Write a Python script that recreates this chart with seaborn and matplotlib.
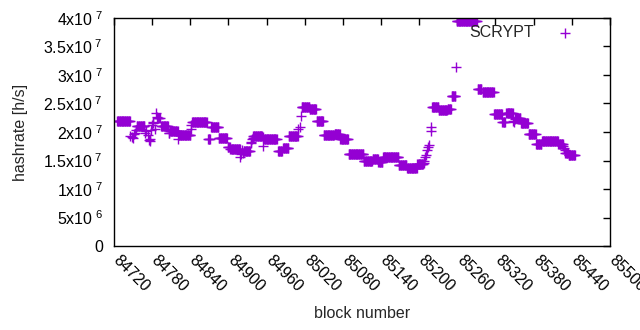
import numpy as np
import pandas as pd
import seaborn as sns
import matplotlib
matplotlib.use("Agg")
import matplotlib.pyplot as plt
import matplotlib.transforms as mtransforms

# plateaus of constant hashrate: first block, last block, hashrate (x1e7)
run_start = [84725, 84756, 84789, 84794, 84808, 84822, 84843, 84868, 84873, 84885,
             84899, 84903, 84924, 84939, 84956, 84978, 84986, 84995, 85016, 85028,
             85039, 85050, 85067, 85076, 85089, 85113, 85127, 85136, 85143, 85168,
             85181, 85197, 85220, 85231, 85245, 85251, 85259, 85292, 85300, 85318,
             85331, 85337, 85351, 85360, 85372, 85384, 85393, 85419, 85430, 85435]
run_end = [84745, 84768, 84792, 84805, 84820, 84840, 84866, 84871, 84884, 84898,
           84902, 84918, 84934, 84953, 84976, 84984, 84994, 85009, 85027, 85038,
           85049, 85066, 85075, 85088, 85112, 85126, 85135, 85142, 85167, 85180,
           85196, 85206, 85230, 85244, 85250, 85257, 85291, 85298, 85317, 85330,
           85335, 85347, 85359, 85371, 85383, 85392, 85418, 85426, 85434, 85445]
run_value = [2.19, 2.10, 2.24, 2.10, 2.02, 1.95, 2.17, 1.88, 2.08, 1.89,
             1.74, 1.70, 1.66, 1.93, 1.87, 1.66, 1.72, 1.93, 2.44, 2.40,
             2.19, 1.95, 1.97, 1.88, 1.62, 1.50, 1.53, 1.48, 1.56, 1.42,
             1.37, 1.43, 2.43, 2.38, 2.41, 2.63, 3.94, 2.76, 2.70, 2.32,
             2.17, 2.33, 2.25, 2.15, 1.96, 1.79, 1.85, 1.79, 1.64, 1.59]

# isolated blocks between plateaus
single_block = [84746, 84748, 84750, 84752, 84753, 84755,
                84769, 84771, 84773, 84775, 84776, 84777, 84778, 84780, 84781, 84782, 84784, 84786, 84787,
                84806, 84807, 84821, 84841, 84842,
                84919, 84920, 84921, 84923, 84935, 84936, 84937, 84938, 84954, 84955,
                85010, 85012, 85014, 85015,
                85207, 85208, 85209, 85211, 85213, 85214, 85216, 85218, 85219, 85258,
                85348, 85349, 85350, 85427, 85428, 85429]
single_value = [1.93, 1.91, 1.90, 1.96, 1.99, 2.04,
                1.98, 2.02, 1.95, 1.86, 1.84, 1.88, 2.04, 2.13, 2.15, 2.17, 2.06, 2.33, 2.26,
                1.98, 1.99, 1.87, 2.06, 2.12,
                1.56, 1.62, 1.69, 1.64, 1.80, 1.83, 1.87, 1.90, 1.75, 1.92,
                2.05, 2.09, 2.28, 2.43,
                1.46, 1.50, 1.56, 1.60, 1.68, 1.74, 1.77, 2.01, 2.09, 3.14,
                2.20, 2.18, 2.22, 1.76, 1.72, 1.68]

x_ticks = list(range(84720, 85501, 60))
y_ticks = [0, 5e6, 1e7, 1.5e7, 2e7, 2.5e7, 3e7, 3.5e7, 4e7]
y_labels = ["0", r"5x10$^{\ 6}$", r"1x10$^{\ 7}$", r"1.5x10$^{\ 7}$", r"2x10$^{\ 7}$",
            r"2.5x10$^{\ 7}$", r"3x10$^{\ 7}$", r"3.5x10$^{\ 7}$", r"4x10$^{\ 7}$"]

blocks, rates = [], []
for s, e, v in zip(run_start, run_end, run_value):
    for b in range(s, e + 1):
        blocks.append(b)
        rates.append(v * 1e7)
for b, v in zip(single_block, single_value):
    blocks.append(b)
    rates.append(v * 1e7)
df = pd.DataFrame({"block": blocks, "hashrate": rates}).sort_values("block")

sns.set_style("white")
plt.rcParams["font.family"] = ["Liberation Sans", "DejaVu Sans"]
plt.rcParams["mathtext.fontset"] = "custom"
plt.rcParams["mathtext.rm"] = "Liberation Sans"
plt.rcParams["mathtext.default"] = "regular"

fs = 11.5
fig = plt.figure(figsize=(6.4, 3.3), dpi=100)
ax = fig.add_axes([0.178, 0.2545, 0.775, 0.691])

sns.scatterplot(data=df, x="block", y="hashrate", marker="+", color="#9400D3",
                s=48, linewidth=1, label="SCRYPT", ax=ax)

ax.set_xlim(84720, 85500)
ax.set_ylim(0, 4e7)
ax.set_xticks(x_ticks)
ax.set_xticklabels([str(t) for t in x_ticks], rotation=-45, ha="left", va="top",
                   rotation_mode="anchor", fontsize=fs)
ax.set_yticks(y_ticks)
ax.set_yticklabels(y_labels, fontsize=fs)
ax.tick_params(direction="in", length=5, width=1, top=True, right=True,
               labeltop=False, labelright=False, colors="black", pad=8)
ax.tick_params(axis="x", pad=5)

# nudge the rotated x labels to the right, like gnuplot places them
shift = mtransforms.ScaledTranslation(7 / 100, 0, fig.dpi_scale_trans)
for tick in ax.xaxis.get_major_ticks():
    tick.label1.set_transform(tick.label1.get_transform() + shift)

for sp in ax.spines.values():
    sp.set_visible(True)
    sp.set_color("black")
    sp.set_linewidth(1)

ax.set_xlabel("block number", fontsize=fs, labelpad=8)
ax.set_ylabel("hashrate [h/s]", fontsize=fs, labelpad=11)

ax.legend(loc="upper right", frameon=False, markerfirst=False, fontsize=fs,
          handletextpad=0.9, borderaxespad=0.2, bbox_to_anchor=(0.96, 1.012))

fig.savefig("out.png", dpi=100)
